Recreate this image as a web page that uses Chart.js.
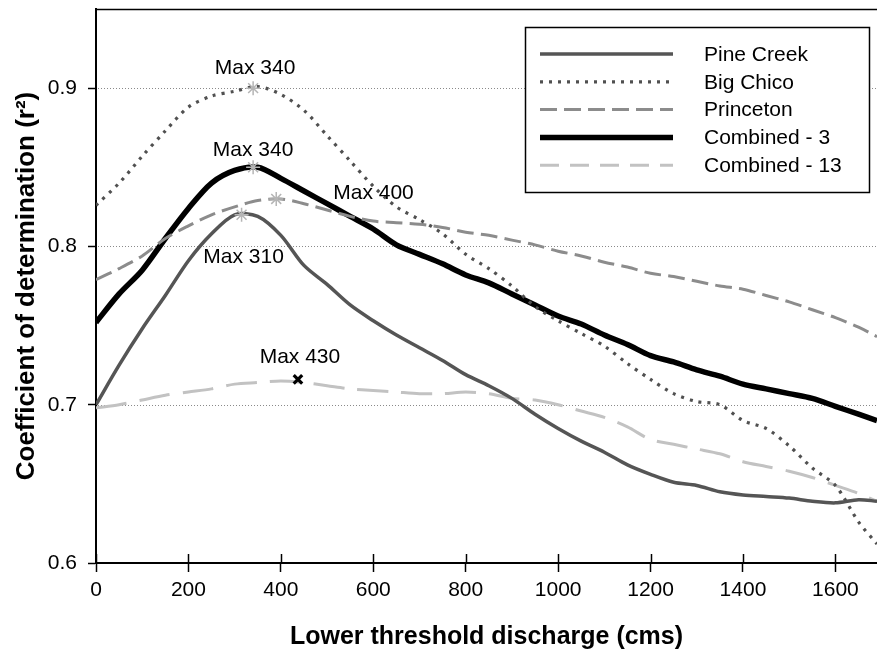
<!DOCTYPE html>
<html><head><meta charset="utf-8">
<script src="https://cdn.jsdelivr.net/npm/chart.js@4.4.1/dist/chart.umd.min.js"></script>
<style>html,body{margin:0;padding:0;background:#fff}canvas{display:block}</style>
</head><body>
<canvas id="c" width="877" height="654"></canvas>
<script>
// ---- data ----
const thresholds = [0,50,100,150,200,250,300,350,400,450,500,550,600,650,700,750,800,850,900,950,1000,1050,1100,1150,1200,1250,1300,1350,1400,1450,1500,1550,1600,1650,1690];
const pineCreek  = [0.700,0.725,0.748,0.769,0.791,0.808,0.820,0.819,0.807,0.788,0.776,0.763,0.753,0.744,0.736,0.728,0.719,0.712,0.704,0.694,0.685,0.677,0.670,0.662,0.656,0.651,0.649,0.645,0.643,0.642,0.641,0.639,0.638,0.640,0.639];
const bigChico   = [0.826,0.840,0.857,0.873,0.888,0.895,0.898,0.901,0.896,0.886,0.870,0.854,0.838,0.825,0.817,0.808,0.795,0.786,0.775,0.762,0.753,0.745,0.737,0.726,0.716,0.707,0.702,0.700,0.690,0.685,0.674,0.660,0.649,0.626,0.612];
const princeton  = [0.779,0.786,0.794,0.805,0.813,0.820,0.825,0.829,0.830,0.827,0.823,0.819,0.816,0.815,0.814,0.812,0.809,0.807,0.804,0.801,0.797,0.794,0.790,0.787,0.783,0.781,0.778,0.775,0.773,0.769,0.765,0.760,0.755,0.749,0.743];
const combined3  = [0.752,0.770,0.785,0.805,0.824,0.840,0.848,0.850,0.843,0.835,0.827,0.819,0.811,0.801,0.795,0.789,0.782,0.777,0.770,0.763,0.756,0.751,0.744,0.738,0.731,0.727,0.722,0.718,0.713,0.710,0.707,0.704,0.699,0.694,0.690];
const combined13 = [0.698,0.700,0.703,0.706,0.708,0.710,0.713,0.714,0.715,0.714,0.712,0.710,0.709,0.708,0.707,0.707,0.708,0.707,0.704,0.703,0.700,0.696,0.692,0.686,0.678,0.675,0.672,0.669,0.664,0.661,0.658,0.654,0.649,0.644,0.639];
const seriesNames = ['Pine Creek','Big Chico','Princeton','Combined - 3','Combined - 13'];
const maxX = [315, 340, 390, 340, 437];
const maxY = [0.820, 0.900, 0.830, 0.850, 0.716];
const maxLabels = ['Max 310','Max 340','Max 400','Max 340','Max 430'];
const xTickValues = [0,200,400,600,800,1000,1200,1400,1600];
const yTickValues = [0.6,0.7,0.8,0.9];
const xTitle = 'Lower threshold discharge (cms)';
const yTitle = 'Coefficient of determination (r\u00B2)';

// ---- styles ----
const FONT = "'Liberation Sans', Arial, sans-serif";
Chart.defaults.font.family = FONT;
Chart.defaults.color = '#000';
const styles = [
  {color:'#555555', width:3.5, dash:[]},
  {color:'#505050', width:3.2, dash:[3,6]},
  {color:'#8c8c8c', width:3, dash:[17,7]},
  {color:'#000000', width:5.5, dash:[]},
  {color:'#c2c2c2', width:3, dash:[31,13]}
];
const allSeries = [pineCreek, bigChico, princeton, combined3, combined13];
const labelOffsets = [[2,42],[2,-20],[0,0],[0,-17],[2,-22]];
const labelAlign = ['center','center','left','center','center'];

const datasets = allSeries.map((arr,i)=>({
  label: seriesNames[i],
  data: thresholds.map((x,j)=>({x:x, y:arr[j]})),
  borderColor: styles[i].color,
  borderWidth: styles[i].width,
  borderDash: styles[i].dash,
  pointRadius: 0,
  tension: 0.3,
  fill: false,
  order: 1
}));
datasets.push({
  type:'scatter',
  label:'max',
  data: maxX.map((x,i)=>({x:x, y:maxY[i]})),
  pointStyle: ['star','star','star','star','crossRot'],
  pointRadius: [7,7,7,7,6],
  pointBorderColor: ['#b5b5b5','#b5b5b5','#b5b5b5','#b5b5b5','#000'],
  pointBorderWidth: [1.5,1.5,1.5,1.5,3.2],
  showLine:false,
  order: -1
});

const decor = {
  id:'decor',
  beforeDatasetsDraw(chart){
    const {ctx, chartArea:a, scales:{x,y}} = chart;
    ctx.save();
    ctx.strokeStyle = '#8a8a8a'; ctx.lineWidth = 1; ctx.setLineDash([1,2]);
    yTickValues.slice(1).forEach(v=>{
      const py = Math.round(y.getPixelForValue(v))+0.5;
      ctx.beginPath(); ctx.moveTo(a.left+2, py); ctx.lineTo(a.right, py); ctx.stroke();
    });
    ctx.setLineDash([]);
    ctx.strokeStyle = '#000'; ctx.lineWidth = 1.5;
    ctx.beginPath(); ctx.moveTo(a.left, a.top+0.5); ctx.lineTo(a.right, a.top+0.5); ctx.stroke();
    xTickValues.forEach(v=>{
      const px = Math.round(x.getPixelForValue(v))+0.5;
      ctx.beginPath(); ctx.moveTo(px, a.bottom); ctx.lineTo(px, a.bottom-9); ctx.stroke();
    });
    ctx.restore();
  },
  afterDatasetsDraw(chart){
    const {ctx, scales:{x,y}} = chart;
    ctx.save();
    ctx.font = '21px ' + FONT; ctx.fillStyle = '#000'; ctx.textBaseline = 'middle';
    maxLabels.forEach((t,i)=>{
      const px = x.getPixelForValue(maxX[i]), py = y.getPixelForValue(maxY[i]);
      if (labelAlign[i]==='left'){ ctx.textAlign='left'; ctx.fillText(t, px+57, py-6); }
      else { ctx.textAlign='center'; ctx.fillText(t, px+labelOffsets[i][0], py+labelOffsets[i][1]); }
    });
    const bx=525.5, by=27.5, bw=344, bh=165;
    ctx.fillStyle='#fff'; ctx.fillRect(bx,by,bw,bh);
    ctx.strokeStyle='#000'; ctx.lineWidth=1.5; ctx.strokeRect(bx,by,bw,bh);
    seriesNames.forEach((n,i)=>{
      const ly = 54 + i*27.8;
      ctx.strokeStyle = styles[i].color; ctx.lineWidth = styles[i].width;
      ctx.setLineDash(i===4?[19,11]:styles[i].dash);
      ctx.beginPath(); ctx.moveTo(540, ly); ctx.lineTo(673, ly); ctx.stroke();
      ctx.setLineDash([]);
      ctx.fillStyle='#000'; ctx.textAlign='left'; ctx.font='21px '+FONT;
      ctx.fillText(n, 704, ly+1);
    });
    ctx.restore();
  }
};

new Chart(document.getElementById('c'), {
  type:'line',
  data:{datasets},
  plugins:[decor],
  options:{
    responsive:false, animation:false, devicePixelRatio:1,
    layout:{autoPadding:false, padding:{top:9,right:0,bottom:0,left:0}},
    plugins:{legend:{display:false}, tooltip:{enabled:false}},
    scales:{
      x:{
        type:'linear', min:0, max:1690,
        ticks:{stepSize:200, includeBounds:false, autoSkip:false, font:{size:21}, color:'#000', padding:6, maxRotation:0, callback:v=>String(v)},
        afterBuildTicks(s){ s.ticks = s.ticks.filter(t=>xTickValues.includes(t.value)); },
        afterFit(s){ s.height = 91; s.paddingLeft = 0; s.paddingRight = 0; },
        grid:{drawOnChartArea:false, drawTicks:true, tickLength:9, tickColor:'#000', tickWidth:1.5},
        border:{display:true, color:'#000', width:2},
        title:{display:true, text:xTitle, font:{size:25, weight:'bold'}, color:'#000', padding:{top:0,bottom:2}}
      },
      y:{
        type:'linear', min:0.6, max:0.95,
        ticks:{stepSize:0.1, includeBounds:false, autoSkip:false, font:{size:21}, color:'#000', padding:11, callback:v=>Number(v).toFixed(1)},
        afterBuildTicks(s){ s.ticks = s.ticks.filter(t=>yTickValues.some(v=>Math.abs(v-t.value)<1e-6)); },
        afterFit(s){ s.width = 96; s.paddingTop = 0; s.paddingBottom = 0; },
        grid:{drawOnChartArea:false, drawTicks:true, tickLength:8, tickColor:'#000', tickWidth:1.5},
        border:{display:true, color:'#000', width:2},
        title:{display:true, text:yTitle, font:{size:26, weight:'bold'}, color:'#000', padding:{top:11,bottom:0}}
      }
    }
  }
});
</script>
</body></html>
